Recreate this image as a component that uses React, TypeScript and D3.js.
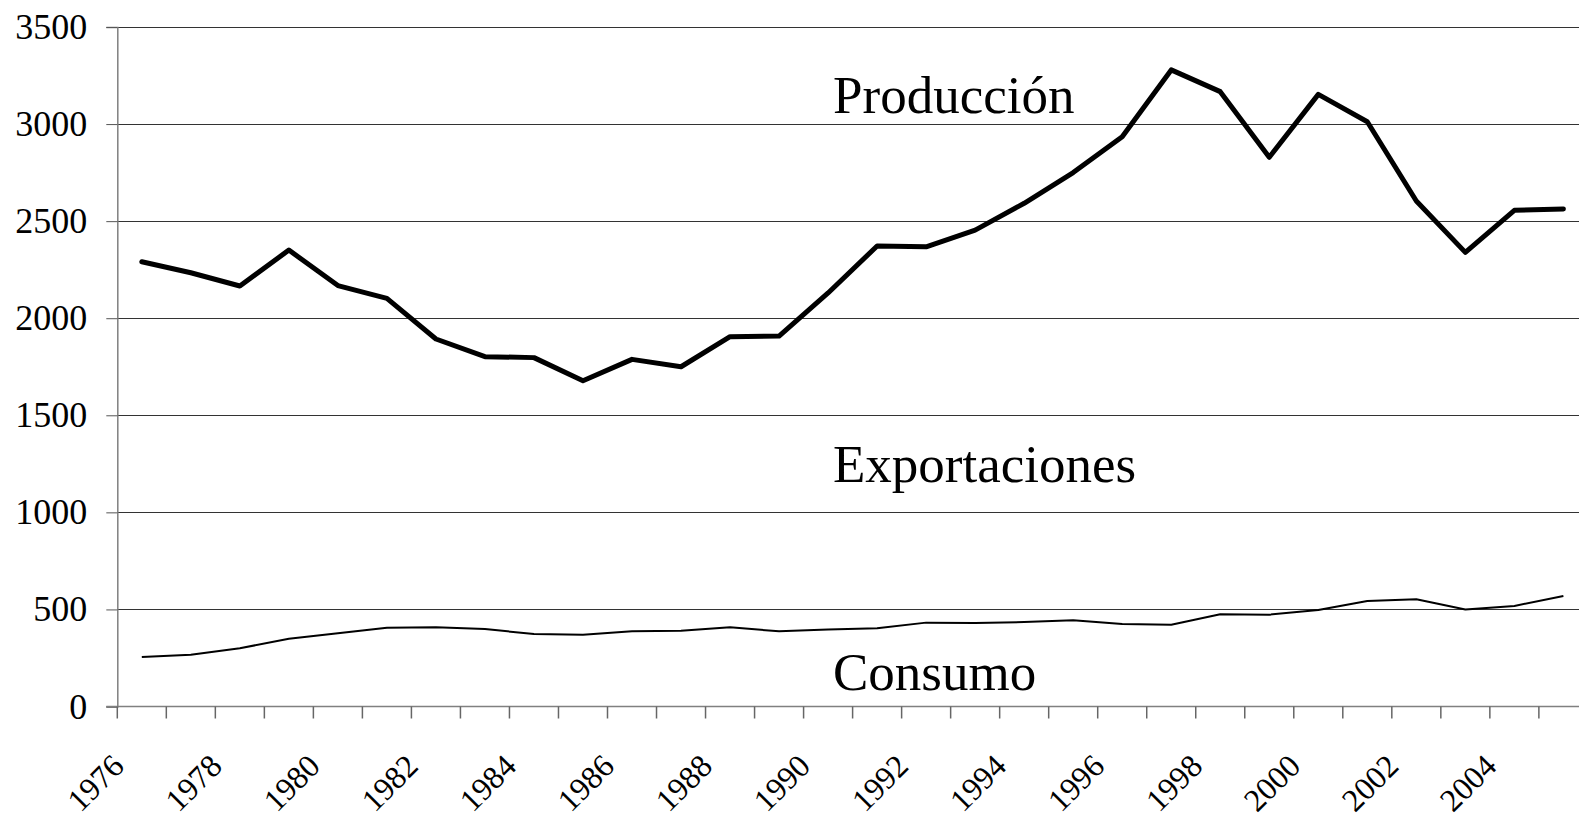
import * as d3 from "d3";
import { useCallback } from "react";

const years = d3.range(1976, 2006).map(String);

const produccion = [
  2291, 2234, 2166, 2351, 2168, 2102, 1893, 1802, 1797, 1678, 1788, 1750,
  1905, 1908, 2130, 2372, 2368, 2454, 2592, 2750, 2935, 3279, 3167, 2829,
  3153, 3012, 2604, 2339, 2556, 2563,
];

const consumo = [
  255, 267, 300, 349, 377, 406, 408, 399, 373, 370, 387, 390, 408, 387, 396,
  403, 432, 430, 435, 444, 425, 421, 475, 473, 497, 543, 552, 500, 518, 569,
];

const yTicks = [0, 500, 1000, 1500, 2000, 2500, 3000, 3500];

const seriesLabels = [
  { text: "Producción", value: 3055 },
  { text: "Exportaciones", value: 1158 },
  { text: "Consumo", value: 86 },
];

const FONT = "'Liberation Serif', 'Times New Roman', serif";

export default function App() {
  const renderChart = useCallback((ref: HTMLDivElement | null) => {
    if (!ref) return;
    const width = 1579;
    const height = 817;

    const left = 117.3;
    const step = 49.02;
    const top = 27;
    const bottom = 706.5;

    const container = d3
      .select(ref)
      .append("svg")
      .attr("width", width)
      .attr("height", height)
      .style("position", "absolute")
      .style("left", 0)
      .style("top", 0)
      .style("background", "#fff");

    const xScale = d3
      .scaleBand<string>()
      .domain(years)
      .range([left, left + step * years.length]);

    const yScale = d3.scaleLinear().domain([0, 3500]).range([bottom, top]);

    // horizontal grid
    container
      .append("g")
      .selectAll("line")
      .data(yTicks.filter((d) => d > 0))
      .enter()
      .append("line")
      .attr("x1", left)
      .attr("x2", left + step * years.length)
      .attr("y1", (d) => yScale(d))
      .attr("y2", (d) => yScale(d))
      .attr("stroke", "#333")
      .attr("stroke-width", 1)
      .attr("shape-rendering", "crispEdges");

    // y axis
    const yAxis = container
      .append("g")
      .attr("transform", `translate(${left},0)`)
      .call(
        d3
          .axisLeft(yScale)
          .tickValues(yTicks)
          .tickSize(11)
          .tickPadding(19)
          .tickFormat((d) => String(d))
      );
    yAxis.select(".domain").attr("stroke", "#808080").attr("stroke-width", 1.5);
    yAxis.selectAll(".tick line").attr("stroke", "#555").attr("stroke-width", 1);
    yAxis
      .selectAll(".tick text")
      .attr("font-family", FONT)
      .attr("font-size", 36)
      .attr("fill", "#000");

    // x axis line + ticks at category boundaries
    container
      .append("line")
      .attr("x1", left - 11)
      .attr("x2", left + step * years.length)
      .attr("y1", bottom)
      .attr("y2", bottom)
      .attr("stroke", "#808080")
      .attr("stroke-width", 1.5);

    const boundaries = d3.range(years.length + 1).map((i) => left + i * step);
    container
      .append("g")
      .selectAll("line")
      .data(boundaries)
      .enter()
      .append("line")
      .attr("x1", (d) => d)
      .attr("x2", (d) => d)
      .attr("y1", bottom)
      .attr("y2", bottom + 12)
      .attr("stroke", "#666")
      .attr("stroke-width", 1.5);

    // x labels every 2 years, rotated
    container
      .append("g")
      .selectAll("text")
      .data(years.filter((_, i) => i % 2 === 0))
      .enter()
      .append("text")
      .attr("transform", (d) => {
        const cx = (xScale(d) ?? 0) + xScale.bandwidth() / 2;
        return `translate(${cx - 16},768) rotate(-45)`;
      })
      .attr("text-anchor", "end")
      .attr("font-family", FONT)
      .attr("font-size", 32)
      .attr("fill", "#000")
      .text((d) => d);

    const line = d3
      .line<number>()
      .x((_, i) => (xScale(years[i]) ?? 0) + xScale.bandwidth() / 2)
      .y((d) => yScale(d));

    container
      .append("path")
      .datum(consumo)
      .attr("fill", "none")
      .attr("stroke", "#000")
      .attr("stroke-width", 2)
      .attr("stroke-linejoin", "round")
      .attr("d", line);

    container
      .append("path")
      .datum(produccion)
      .attr("fill", "none")
      .attr("stroke", "#000")
      .attr("stroke-width", 5)
      .attr("stroke-linejoin", "round")
      .attr("stroke-linecap", "round")
      .attr("d", line);

    // series labels
    container
      .append("g")
      .selectAll("text")
      .data(seriesLabels)
      .enter()
      .append("text")
      .attr("x", 833)
      .attr("y", (d) => yScale(d.value))
      .attr("font-family", FONT)
      .attr("font-size", 53)
      .attr("fill", "#000")
      .text((d) => d.text);

    return () => {
      container.remove();
    };
  }, []);

  return <div ref={renderChart}></div>;
}
